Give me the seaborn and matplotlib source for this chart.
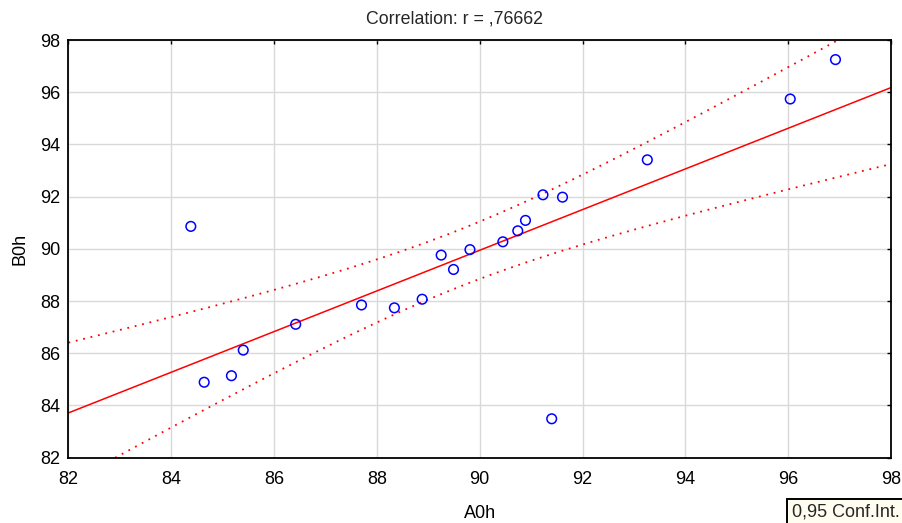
import numpy as np
import pandas as pd
import matplotlib.pyplot as plt
import matplotlib.patches as mpatches
import seaborn as sns

# values
a0h = [84.38, 84.64, 85.17, 85.40, 86.42, 87.70, 88.34, 88.88, 89.25, 89.49,
       89.81, 90.45, 90.74, 90.89, 91.23, 91.61, 91.40, 93.26, 96.04, 96.92]
b0h = [90.86, 84.89, 85.14, 86.12, 87.11, 87.85, 87.74, 88.07, 89.76, 89.21,
       89.97, 90.27, 90.69, 91.09, 92.07, 91.98, 83.49, 93.41, 95.74, 97.25]
ticks = [82, 84, 86, 88, 90, 92, 94, 96, 98]
title = "Correlation: r = ,76662"
ci_label = "0,95 Conf.Int."


def create_plot():
    df = pd.DataFrame({"A0h": a0h, "B0h": b0h})

    sns.set_theme(style="whitegrid")
    plt.rcParams['font.family'] = ['Liberation Sans', 'DejaVu Sans']

    fig = plt.figure(figsize=(9.02, 5.23), dpi=100)
    ax = fig.add_axes([0.0759, 0.1249, 0.9119, 0.7986])
    ax.set_xlim(82, 98)
    ax.set_ylim(82, 98)

    # regression line
    sns.regplot(x="A0h", y="B0h", data=df, ax=ax, scatter=False, ci=None,
                truncate=False, color="#FF0000", line_kws={"linewidth": 1.1})

    # 95% confidence band of the mean, dotted
    x = df["A0h"].to_numpy()
    y = df["B0h"].to_numpy()
    n = len(x)
    slope, intercept = np.polyfit(x, y, 1)
    resid = y - (slope * x + intercept)
    s = np.sqrt(np.sum(resid ** 2) / (n - 2))
    t = 2.100922
    xs = np.linspace(82, 98, 200)
    se = s * np.sqrt(1 / n + (xs - x.mean()) ** 2 / np.sum((x - x.mean()) ** 2))
    fit = slope * xs + intercept
    ax.plot(xs, fit + t * se, color="#FF0000", linestyle=(0, (1, 3.2)), linewidth=1.3)
    ax.plot(xs, fit - t * se, color="#FF0000", linestyle=(0, (1, 3.2)), linewidth=1.3)

    sns.scatterplot(x="A0h", y="B0h", data=df, ax=ax, s=48, marker="o",
                    facecolor="none", edgecolor="#0000FF", linewidth=1.1, zorder=5)

    ax.set_xlim(82, 98)
    ax.set_ylim(82, 98)
    ax.set_xticks(ticks)
    ax.set_yticks(ticks)
    ax.grid(True, color="#D9D9D9", linewidth=1.0)
    for side in ["left", "right", "top", "bottom"]:
        ax.spines[side].set_color("black")
        ax.spines[side].set_linewidth(1.3)
    ax.tick_params(direction="in", length=3, width=1, colors="black",
                   top=True, right=True, labelsize=13)
    ax.tick_params(axis="x", pad=9.5)
    ax.tick_params(axis="y", pad=6)

    ax.set_xlabel("A0h", fontsize=13, color="black", labelpad=12)
    ax.set_ylabel("B0h", fontsize=13, color="black", labelpad=8)

    fig.text(0.504, 1 - 19.5 / 523, title, ha="center", va="center", fontsize=12.8)

    # Conf.Int. box, running off the bottom-right corner
    fig.patches.append(mpatches.Rectangle(
        (787 / 902, -0.1), 0.5, 0.1 + (523 - 499) / 523,
        transform=fig.transFigure, facecolor="#FFFDF0",
        edgecolor="black", linewidth=1.4))
    fig.text(792 / 902, 1 - 512 / 523, ci_label, ha="left", va="center", fontsize=13)

    fig.savefig("out.png", dpi=100)


if __name__ == '__main__':
    create_plot()
